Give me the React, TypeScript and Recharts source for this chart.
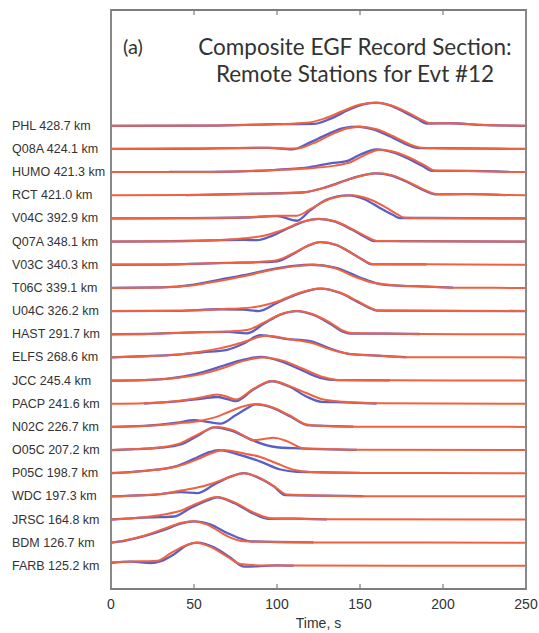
import { LineChart, Line, XAxis, YAxis, ReferenceArea, ReferenceLine } from 'recharts';

// station labels, bottom (index 0) to top
const stations = ['FARB', 'BDM', 'JRSC', 'WDC', 'P05C', 'O05C', 'N02C', 'PACP', 'JCC', 'ELFS',
  'HAST', 'U04C', 'T06C', 'V03C', 'Q07A', 'V04C', 'RCT', 'HUMO', 'Q08A', 'PHL'];
const distances = ['125.2', '126.7', '164.8', '197.3', '198.7', '207.2', '226.7', '241.6', '245.4', '268.6',
  '291.7', '326.2', '339.1', '340.3', '348.1', '392.9', '421.0', '421.3', '424.1', '428.7'];
const timeTicks = [0, 50, 100, 150, 200, 250];

// [time s, amplitude in trace spacings] — red = observed, blue = EGF
const phlRed = [[0, 0], [60, 0.01], [100, 0.07], [118, 0.13], [128, 0.3], [140, 0.65], [150, 0.92], [159, 1.0], [168, 0.9], [178, 0.6], [186, 0.3], [193, 0.1], [205, 0.11], [222, 0.04], [250, 0]];
const phlBlue = [[0, 0], [60, 0.01], [100, 0.07], [122, 0.08], [132, 0.3], [143, 0.68], [152, 0.93], [160, 1.0], [168, 0.88], [177, 0.58], [185, 0.28], [190, 0.1], [205, 0.11], [222, 0.04], [250, 0]];
const q08aRed = [[0, 0], [40, 0.01], [95, 0.05], [112, 0.02], [122, 0.25], [132, 0.6], [142, 0.88], [150, 0.96], [160, 0.85], [170, 0.55], [180, 0.2], [187, 0.05], [200, 0.03], [250, 0]];
const q08aBlue = [[0, 0], [40, 0.01], [95, 0.05], [109, -0.02], [119, 0.25], [130, 0.62], [140, 0.9], [149, 0.96], [158, 0.85], [168, 0.55], [178, 0.2], [185, 0.04], [200, 0.03], [250, 0]];
const humoRed = [[0, 0], [60, 0.01], [100, 0.1], [122, 0.18], [135, 0.28], [145, 0.45], [154, 0.78], [162, 0.97], [172, 0.85], [182, 0.55], [190, 0.25], [195, 0.06], [215, 0.05], [240, 0.01], [250, 0]];
const humoBlue = [[35, 0.01], [60, 0.01], [100, 0.1], [120, 0.22], [132, 0.38], [142, 0.47], [150, 0.75], [160, 0.98], [170, 0.85], [180, 0.55], [188, 0.25], [193, 0.06], [215, 0.05], [240, 0.01]];
const rctRed = [[0, 0], [45, 0.01], [90, 0.07], [115, 0.12], [130, 0.35], [145, 0.72], [160, 0.95], [170, 0.85], [180, 0.55], [190, 0.2], [196, 0.05], [215, 0.05], [238, 0.01], [250, 0]];
const rctBlue = [[45, 0.01], [90, 0.07], [115, 0.12], [130, 0.36], [145, 0.73], [159, 0.95], [169, 0.85], [179, 0.55], [189, 0.2], [195, 0.04], [215, 0.05], [238, 0.01]];
const v04cRed = [[0, 0], [40, 0.01], [80, 0.04], [100, 0.12], [112, 0.12], [120, 0.4], [132, 0.85], [145, 1.0], [155, 0.85], [165, 0.5], [172, 0.2], [177, 0.03], [190, 0.02], [250, 0]];
const v04cBlue = [[0, 0], [40, 0.01], [80, 0.04], [100, 0.1], [112, -0.1], [120, 0.35], [130, 0.82], [143, 1.0], [153, 0.82], [162, 0.45], [170, 0.15], [174, 0.02], [190, 0.02], [250, 0]];
const q07aRed = [[0, 0], [30, 0.01], [60, 0.05], [80, 0.14], [92, 0.25], [105, 0.55], [115, 0.85], [125, 0.98], [135, 0.88], [145, 0.55], [153, 0.25], [160, 0.03], [175, 0.02], [250, 0]];
const q07aBlue = [[0, 0], [30, 0.01], [60, 0.05], [80, 0.08], [88, 0.06], [97, 0.25], [108, 0.62], [118, 0.9], [125, 0.98], [135, 0.86], [145, 0.52], [153, 0.2], [159, 0.02], [175, 0.02], [250, 0]];
const v03cRed = [[0, 0], [30, 0.01], [70, 0.08], [90, 0.13], [100, 0.2], [110, 0.5], [118, 0.8], [126, 0.98], [136, 0.85], [145, 0.5], [152, 0.2], [158, 0.03], [190, 0.02], [250, 0]];
const v03cBlue = [[0, 0], [30, 0.01], [70, 0.08], [90, 0.11], [100, 0.15], [110, 0.48], [118, 0.8], [126, 0.98], [136, 0.85], [145, 0.5], [152, 0.2], [157, 0.02], [190, 0.02]];
const t06cRed = [[0, 0], [30, 0.02], [50, 0.12], [65, 0.3], [80, 0.5], [95, 0.75], [110, 0.93], [122, 1.0], [135, 0.85], [148, 0.45], [158, 0.22], [170, 0.12], [190, 0.06], [206, 0.01], [250, 0]];
const t06cBlue = [[0, 0], [30, 0.02], [50, 0.14], [65, 0.35], [80, 0.55], [95, 0.78], [110, 0.95], [121, 1.0], [135, 0.88], [150, 0.45], [160, 0.2], [170, 0.11], [190, 0.06], [206, 0.01]];
const u04cRed = [[0, 0], [40, 0.01], [65, 0.08], [85, 0.16], [100, 0.4], [112, 0.75], [126, 0.98], [138, 0.8], [148, 0.45], [156, 0.15], [161, 0.02], [250, 0]];
const u04cBlue = [[0, 0], [40, 0.01], [65, 0.08], [80, 0.06], [89, 0.0], [100, 0.35], [112, 0.72], [126, 0.97], [138, 0.78], [148, 0.42], [156, 0.13], [160, 0.02], [250, 0]];
const hastRed = [[0, 0], [20, 0.01], [50, 0.08], [70, 0.12], [82, 0.18], [92, 0.5], [102, 0.85], [112, 1.0], [122, 0.85], [132, 0.5], [140, 0.15], [145, 0.05], [165, 0.03], [186, 0.01], [250, 0]];
const hastBlue = [[0, 0], [20, 0.01], [50, 0.08], [70, 0.1], [82, 0.04], [92, 0.45], [102, 0.85], [112, 1.0], [122, 0.83], [132, 0.45], [140, 0.1], [144, 0.03], [165, 0.03], [186, 0.01]];
const elfsRed = [[0, 0], [20, 0.05], [40, 0.12], [55, 0.25], [66, 0.4], [78, 0.62], [94, 0.93], [108, 0.78], [120, 0.64], [132, 0.35], [144, 0.15], [160, 0.08], [178, 0.01], [250, 0]];
const elfsBlue = [[0, 0], [20, 0.05], [40, 0.12], [55, 0.22], [70, 0.33], [80, 0.6], [90, 0.96], [105, 0.8], [120, 0.7], [132, 0.38], [144, 0.14], [160, 0.08], [178, 0.01]];
const jccRed = [[0, 0], [20, 0.02], [44, 0.15], [56, 0.3], [68, 0.55], [80, 0.85], [92, 1.0], [104, 0.85], [116, 0.5], [128, 0.15], [137, 0.02], [168, 0.01], [250, 0]];
const jccBlue = [[0, 0], [20, 0.02], [44, 0.18], [56, 0.38], [68, 0.65], [80, 0.9], [90, 1.02], [102, 0.84], [114, 0.48], [126, 0.12], [136, 0.02], [168, 0.01]];
const pacpRed = [[0, 0], [20, 0.02], [40, 0.12], [55, 0.28], [64, 0.4], [70, 0.3], [75, 0.18], [86, 0.65], [97, 0.98], [108, 0.75], [118, 0.45], [128, 0.18], [140, 0.08], [160, 0.02], [250, 0]];
const pacpBlue = [[20, 0.01], [40, 0.1], [55, 0.22], [64, 0.29], [70, 0.2], [75, 0.11], [86, 0.62], [97, 0.97], [108, 0.72], [118, 0.3], [127, 0.08], [140, 0.06], [160, 0.01]];
const n02cRed = [[0, 0], [20, 0.04], [40, 0.15], [55, 0.28], [62, 0.4], [70, 0.62], [78, 0.85], [87, 0.99], [97, 0.85], [108, 0.48], [118, 0.1], [125, 0.05], [146, 0.01], [250, 0]];
const n02cBlue = [[0, 0], [20, 0.04], [40, 0.18], [50, 0.29], [58, 0.22], [66, 0.14], [75, 0.5], [82, 0.8], [87, 0.97], [97, 0.83], [108, 0.45], [118, 0.08], [125, 0.05], [146, 0.01]];
const o05cRed = [[0, 0], [15, 0.04], [30, 0.12], [42, 0.3], [53, 0.7], [64, 1.0], [74, 0.85], [86, 0.43], [92, 0.48], [98, 0.53], [106, 0.38], [116, 0.08], [130, 0.05], [148, 0.01], [250, 0]];
const o05cBlue = [[0, 0], [15, 0.04], [30, 0.1], [42, 0.24], [53, 0.65], [62, 0.98], [72, 0.85], [86, 0.4], [94, 0.2], [100, 0.12], [110, 0.08], [120, 0.05], [148, 0.01]];
const p05cRed = [[0, 0], [20, 0.1], [40, 0.3], [52, 0.6], [60, 0.85], [68, 1.0], [78, 0.88], [90, 0.7], [100, 0.42], [110, 0.15], [120, 0.05], [150, 0.01], [250, 0]];
const p05cBlue = [[0, 0], [20, 0.1], [40, 0.32], [50, 0.62], [58, 0.88], [65, 1.0], [75, 0.85], [90, 0.5], [102, 0.16], [112, 0.06], [120, 0.05], [150, 0.01]];
const wdcRed = [[0, 0], [20, 0.05], [30, 0.1], [42, 0.25], [52, 0.38], [62, 0.58], [72, 0.85], [80, 1.0], [88, 0.85], [98, 0.45], [106, 0.08], [130, 0.03], [152, 0.01], [250, 0]];
const wdcBlue = [[0, 0], [20, 0.05], [30, 0.1], [42, 0.18], [52, 0.14], [62, 0.5], [72, 0.85], [80, 1.0], [88, 0.83], [98, 0.43], [105, 0.05], [130, 0.03], [152, 0.01]];
const jrscRed = [[0, 0], [20, 0.1], [32, 0.22], [42, 0.38], [52, 0.7], [64, 0.97], [74, 0.75], [86, 0.3], [96, 0.06], [110, 0.04], [130, 0.01], [250, 0]];
const jrscBlue = [[0, 0], [20, 0.08], [30, 0.1], [38, 0.13], [48, 0.5], [58, 0.82], [64, 0.96], [74, 0.72], [86, 0.25], [95, 0.03], [110, 0.04], [130, 0.01]];
const bdmRed = [[0, 0], [8, 0.1], [20, 0.3], [32, 0.6], [42, 0.85], [49, 0.93], [58, 0.78], [66, 0.45], [72, 0.22], [80, 0.06], [100, 0.03], [122, 0.01], [250, 0]];
const bdmBlue = [[0, 0], [8, 0.08], [20, 0.28], [32, 0.55], [42, 0.82], [50, 0.92], [60, 0.78], [70, 0.42], [78, 0.18], [84, 0.06], [100, 0.03], [122, 0.01]];
const farbRed = [[0, 0.15], [12, 0.19], [22, 0.2], [28, 0.22], [36, 0.55], [44, 0.85], [51, 1.0], [60, 0.82], [70, 0.4], [78, 0.08], [90, 0.02], [110, 0.01], [250, 0]];
const farbBlue = [[0, 0.13], [12, 0.18], [24, 0.12], [30, 0.2], [38, 0.5], [46, 0.9], [52, 1.0], [62, 0.8], [72, 0.35], [80, -0.03], [88, -0.02], [100, 0.02], [110, 0.01]];

const redTraces = [farbRed, bdmRed, jrscRed, wdcRed, p05cRed, o05cRed, n02cRed, pacpRed, jccRed, elfsRed,
  hastRed, u04cRed, t06cRed, v03cRed, q07aRed, v04cRed, rctRed, humoRed, q08aRed, phlRed];
const blueTraces = [farbBlue, bdmBlue, jrscBlue, wdcBlue, p05cBlue, o05cBlue, n02cBlue, pacpBlue, jccBlue, elfsBlue,
  hastBlue, u04cBlue, t06cBlue, v03cBlue, q07aBlue, v04cBlue, rctBlue, humoBlue, q08aBlue, phlBlue];

const RED = '#f0623f';
const BLUE = '#5a5fc8';
const FRAME = '#7d7d7d';
const TEXT = '#333';
const FONT = '"Liberation Sans", Arial, sans-serif';
const Y_MIN = -1;
const Y_MAX = 24;

// put each trace on its own baseline
const toRows = (pts: number[][], base: number) => pts.map(([t, a]) => ({ t, v: base + a }));

const StationTick = ({ y, payload }: any) => (
  <text x={12} y={y} dy={4} fontSize={12.5} fill={TEXT} fontFamily={FONT} textAnchor="start">
    {`${stations[payload.value]} ${distances[payload.value]} km`}
  </text>
);

const BottomTick = ({ x, y, payload }: any) => (
  <g>
    {payload.value > 0 && payload.value < 250 && (
      <line x1={x} x2={x} y1={y} y2={y - 5} stroke={FRAME} strokeWidth={1.2} />
    )}
    <text x={x} y={y + 20} textAnchor="middle" fontSize={14} fill={TEXT} fontFamily={FONT}>
      {payload.value}
    </text>
  </g>
);

export default function App() {
  return (
    <div style={{ position: 'absolute', left: 0, top: 0, width: 539, height: 633, background: '#fff' }}>
      <LineChart width={539} height={633} margin={{ top: 10, right: 13, bottom: 0, left: 0 }}>
        <XAxis
          dataKey="t"
          type="number"
          domain={[0, 250]}
          ticks={timeTicks}
          height={44}
          tickSize={0}
          tickMargin={0}
          tick={<BottomTick />}
          axisLine={false}
          allowDataOverflow
          label={{ value: 'Time, s', position: 'insideBottom', offset: 5, fontSize: 14, fill: TEXT, fontFamily: FONT }}
        />
        <YAxis
          type="number"
          domain={[Y_MIN, Y_MAX]}
          ticks={stations.map((_, i) => i)}
          width={111}
          tickLine={false}
          tick={<StationTick />}
          axisLine={false}
          allowDataOverflow
        />
        <ReferenceArea
          x1={0}
          x2={250}
          y1={Y_MIN}
          y2={Y_MAX}
          fill="none"
          stroke={FRAME}
          strokeWidth={1.8}
          ifOverflow="visible"
        />
        {timeTicks.slice(1, -1).map((t) => (
          <ReferenceLine
            key={`top${t}`}
            segment={[{ x: t, y: Y_MAX }, { x: t, y: Y_MAX - 0.22 }]}
            stroke={FRAME}
            strokeWidth={1.2}
            ifOverflow="visible"
          />
        ))}
        {blueTraces.map((pts, i) => (
          <Line
            key={`b${i}`}
            data={toRows(pts, i)}
            dataKey="v"
            type="monotone"
            stroke={BLUE}
            strokeWidth={2.3}
            dot={false}
            isAnimationActive={false}
          />
        ))}
        {redTraces.map((pts, i) => (
          <Line
            key={`r${i}`}
            data={toRows(pts, i)}
            dataKey="v"
            type="monotone"
            stroke={RED}
            strokeWidth={2}
            dot={false}
            isAnimationActive={false}
          />
        ))}
        <text x={123} y={54} fontSize={20} fill={TEXT} fontFamily="Lato, sans-serif">(a)</text>
        <text x={355} y={55} textAnchor="middle" fontSize={22.5} fill={TEXT} fontFamily="Lato, sans-serif">
          Composite EGF Record Section:
        </text>
        <text x={355} y={82} textAnchor="middle" fontSize={22.5} fill={TEXT} fontFamily="Lato, sans-serif">
          Remote Stations for Evt #12
        </text>
      </LineChart>
    </div>
  );
}
